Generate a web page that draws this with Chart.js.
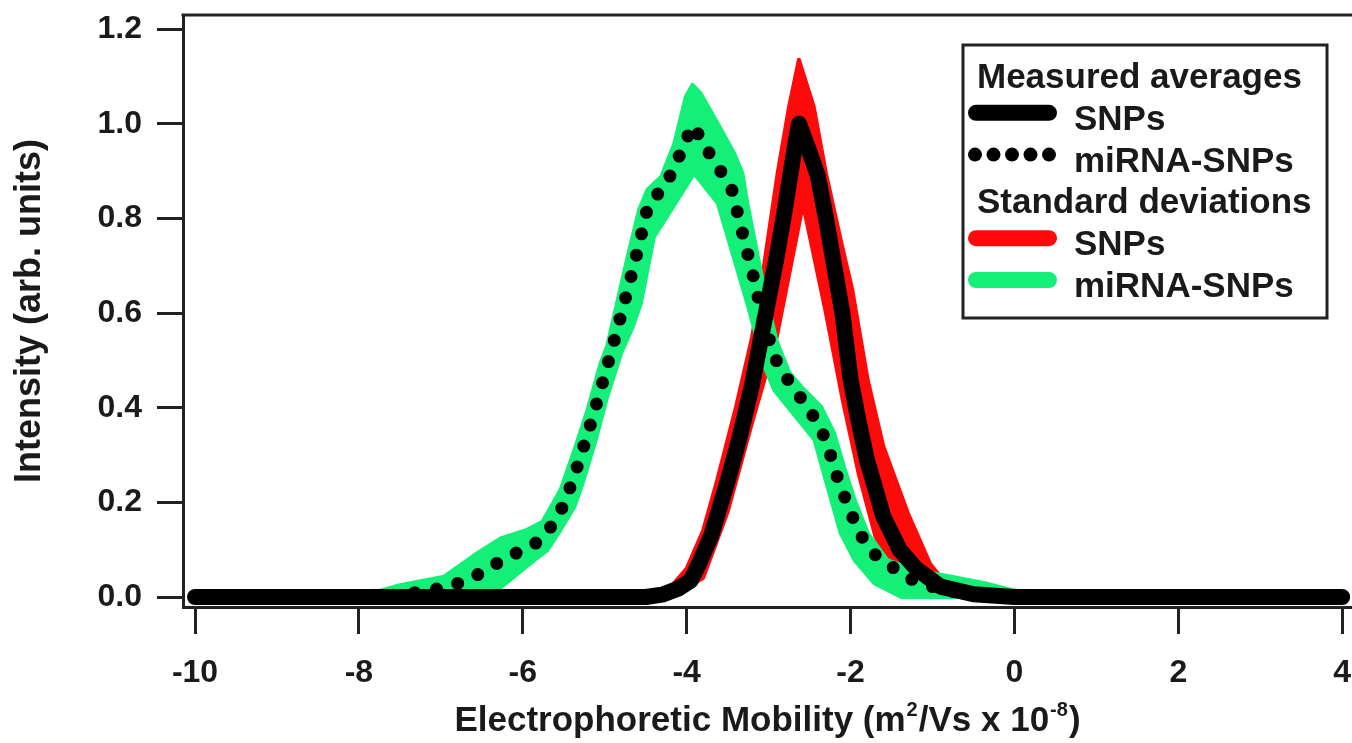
<!DOCTYPE html>
<html>
<head>
<meta charset="utf-8">
<title>Electrophoretic mobility distributions</title>
<script src="https://cdn.jsdelivr.net/npm/chart.js@4.4.1/dist/chart.umd.min.js"></script>
<style>
  html, body { margin: 0; padding: 0; background: #fff; }
  #wrap { width: 1352px; height: 743px; position: relative; }
</style>
</head>
<body>
<div id="wrap"><canvas id="mobility-chart"></canvas></div>
<script>
// Mobility (x) / intensity (y)

// SNPs measured average (solid black)
const snpsX = [-10, -4.5, -4.3, -4.1, -3.95, -3.85, -3.7, -3.5, -3.35, -3.2, -3.1, -3.0, -2.9, -2.8, -2.7, -2.63,
  -2.5, -2.4, -2.3, -2.2, -2.1, -2.0, -1.9, -1.8, -1.6, -1.4, -1.2, -0.9, -0.5, 0, 4];
const snpsY = [0, 0, 0.005, 0.018, 0.035, 0.07, 0.13, 0.245, 0.34, 0.45, 0.54, 0.63, 0.72, 0.82, 0.93, 1.0,
  0.94, 0.89, 0.80, 0.70, 0.60, 0.46, 0.37, 0.29, 0.17, 0.10, 0.06, 0.022, 0.006, 0, 0];

// miRNA-SNPs measured average (dotted black)
const mirnaX = [-10, -7.8, -7.5, -7.2, -6.9, -6.62, -6.35, -6.09, -5.82, -5.64, -5.49, -5.31, -5.15, -5.0, -4.86,
  -4.72, -4.59, -4.47, -4.26, -4.13, -4.02, -3.92, -3.77, -3.6, -3.45, -3.32, -3.19, -3.07, -2.99, -2.91,
  -2.75, -2.56, -2.38, -2.28, -2.2, -2.12, -2.01, -1.92, -1.72, -1.47, -1.24, -1.0, -0.7, -0.3, 0, 4];
const mirnaY = [0, 0, 0.005, 0.012, 0.022, 0.04, 0.068, 0.092, 0.116, 0.152, 0.198, 0.288, 0.378, 0.469, 0.557,
  0.649, 0.738, 0.828, 0.870, 0.915, 0.962, 0.997, 0.950, 0.904, 0.861, 0.770, 0.680, 0.59, 0.543, 0.501,
  0.455, 0.409, 0.363, 0.320, 0.275, 0.230, 0.187, 0.142, 0.092, 0.061, 0.036, 0.022, 0.01, 0.003, 0, 0];

// SNPs standard deviation band (red), upper and lower edges
const snpsSdUpX = [-4.6, -4.2, -4.0, -3.8, -3.63, -3.4, -3.2, -3.07, -2.89, -2.75, -2.63, -2.45, -2.3, -2.12,
  -1.98, -1.79, -1.6, -1.3, -1.03, -0.82, -0.5, 0];
const snpsSdUpY = [0, 0.02, 0.06, 0.14, 0.245, 0.40, 0.55, 0.684, 0.895, 1.036, 1.135, 1.036, 0.895, 0.754,
  0.65, 0.458, 0.318, 0.177, 0.07, 0.025, 0.005, 0];
const snpsSdLoX = [-4.6, -4.2, -3.8, -3.5, -3.2, -2.9, -2.58, -2.3, -2.1, -1.9, -1.7, -1.5, -1.3, -1.1, 0];
const snpsSdLoY = [0, 0, 0.04, 0.18, 0.37, 0.55, 0.83, 0.60, 0.42, 0.26, 0.13, 0.05, 0.01, 0, 0];

// miRNA-SNPs standard deviation band (green), upper and lower edges
const mirnaSdUpX = [-8.0, -7.5, -6.96, -6.56, -6.27, -5.95, -5.76, -5.54, -5.37, -5.21, -5.05, -4.97, -4.72,
  -4.58, -4.48, -4.31, -4.15, -4.01, -3.93, -3.83, -3.62, -3.42, -3.32, -3.26, -3.14, -3.03, -2.9, -2.75,
  -2.60, -2.36, -2.20, -2.08, -1.95, -1.79, -1.55, -1.22, -0.77, -0.36, -0.04, 0.4, 0.8];
const mirnaSdUpY = [0, 0.025, 0.043, 0.092, 0.124, 0.142, 0.159, 0.226, 0.31, 0.395, 0.494, 0.53, 0.719,
  0.818, 0.86, 0.888, 0.958, 1.057, 1.082, 1.064, 1.0, 0.937, 0.895, 0.832, 0.726, 0.634, 0.54, 0.475,
  0.444, 0.402, 0.346, 0.275, 0.205, 0.135, 0.078, 0.057, 0.043, 0.029, 0.015, 0.004, 0];
const mirnaSdLoX = [-8.0, -6.6, -6.27, -5.86, -5.70, -5.54, -5.37, -5.27, -5.11, -4.97, -4.80, -4.66, -4.56,
  -4.40, -4.19, -3.91, -3.62, -3.50, -3.38, -3.26, -3.05, -2.93, -2.44, -2.28, -2.12, -1.95, -1.71, -1.38, 0.8];
const mirnaSdLoY = [0, 0, 0.02, 0.078, 0.099, 0.142, 0.191, 0.24, 0.332, 0.423, 0.515, 0.57, 0.62,
  0.761, 0.818, 0.895, 0.832, 0.761, 0.691, 0.62, 0.487, 0.437, 0.332, 0.233, 0.135, 0.078, 0.029, 0, 0];

// Axis ticks
const xTicks = [-10, -8, -6, -4, -2, 0, 2, 4];
const yTicks = [0, 0.2, 0.4, 0.6, 0.8, 1.0, 1.2];

const RED = '#ff0a0a';
const GREEN = '#14ef78';
const INK = '#1a1a1a';
const FONT = "'Liberation Sans', Arial, Helvetica, sans-serif";

Chart.defaults.font.family = FONT;
Chart.defaults.color = INK;

function toPoints(xs, ys) {
  return xs.map((x, i) => ({ x: x, y: ys[i] }));
}

// Legend rows: headers have no key, items point at a dataset label
const legendRows = [
  { text: 'Measured averages' },
  { text: 'SNPs', key: 'snps-mean' },
  { text: 'miRNA-SNPs', key: 'mirna-mean' },
  { text: 'Standard deviations' },
  { text: 'SNPs', key: 'snps-sd' },
  { text: 'miRNA-SNPs', key: 'mirna-sd' }
];

const boxLegend = {
  id: 'boxLegend',
  afterDraw(chart) {
    const ctx = chart.ctx;
    const box = { left: 963, top: 45, right: 1327, bottom: 318 };
    ctx.save();
    ctx.fillStyle = '#fff';
    ctx.fillRect(box.left, box.top, box.right - box.left, box.bottom - box.top);
    ctx.strokeStyle = '#222';
    ctx.lineWidth = 3;
    ctx.strokeRect(box.left, box.top, box.right - box.left, box.bottom - box.top);

    ctx.font = 'bold 35px ' + FONT;
    ctx.fillStyle = INK;
    ctx.textBaseline = 'alphabetic';
    legendRows.forEach((row, i) => {
      const base = 88 + i * 41.8;
      if (!row.key) {
        ctx.fillText(row.text, 977, base);
        return;
      }
      const ds = chart.data.datasets.find(d => d.label === row.key);
      const y = base - 17;
      ctx.save();
      ctx.strokeStyle = ds.borderColor;
      ctx.lineCap = 'round';
      ctx.beginPath();
      if (ds.borderDash && ds.borderDash.length) {
        ctx.lineWidth = 14;
        ctx.setLineDash([0, 18.5]);
        ctx.moveTo(975, y);
        ctx.lineTo(1050, y);
      } else {
        ctx.lineWidth = 16;
        ctx.moveTo(976, y);
        ctx.lineTo(1049, y);
      }
      ctx.stroke();
      ctx.restore();
      ctx.fillText(row.text, 1074, base);
    });
    ctx.restore();
  }
};

// top frame line and the x title with superscripts
const frameAndTitle = {
  id: 'frameAndTitle',
  afterDraw(chart) {
    const ctx = chart.ctx;
    const area = chart.chartArea;
    ctx.save();
    ctx.strokeStyle = '#222';
    ctx.lineWidth = 3;
    ctx.beginPath();
    ctx.moveTo(area.left - 1.5, area.top);
    ctx.lineTo(chart.width, area.top);
    ctx.stroke();

    const parts = [
      { t: 'Electrophoretic Mobility (m', sup: false },
      { t: '2', sup: true },
      { t: '/Vs x 10', sup: false },
      { t: '-8', sup: true },
      { t: ')', sup: false }
    ];
    const mainFont = 'bold 35px ' + FONT;
    const supFont = 'bold 20px ' + FONT;
    let total = 0;
    parts.forEach(p => {
      ctx.font = p.sup ? supFont : mainFont;
      p.w = ctx.measureText(p.t).width + (p.sup ? 2 : 0);
      total += p.w;
    });
    let x = (area.left + area.right) / 2 - total / 2;
    const base = 731;
    ctx.fillStyle = INK;
    ctx.textBaseline = 'alphabetic';
    parts.forEach(p => {
      ctx.font = p.sup ? supFont : mainFont;
      ctx.fillText(p.t, x + (p.sup ? 1 : 0), p.sup ? base - 15 : base);
      x += p.w;
    });
    ctx.restore();
  }
};

function band(label, xs, ys, color, fill, order) {
  return {
    label: label,
    data: toPoints(xs, ys),
    borderColor: color,
    backgroundColor: color,
    borderWidth: 4,
    borderJoinStyle: 'round',
    borderCapStyle: 'round',
    pointRadius: 0,
    fill: fill,
    order: order
  };
}

const datasets = [
  band('snps-sd-low', snpsSdLoX, snpsSdLoY, RED, false, 4),
  band('snps-sd', snpsSdUpX, snpsSdUpY, RED, '-1', 4),
  band('mirna-sd-low', mirnaSdLoX, mirnaSdLoY, GREEN, false, 3),
  band('mirna-sd', mirnaSdUpX, mirnaSdUpY, GREEN, '-1', 3),
  {
    label: 'snps-mean',
    data: toPoints(snpsX, snpsY),
    borderColor: '#000',
    borderWidth: 16,
    borderCapStyle: 'round',
    borderJoinStyle: 'round',
    pointRadius: 0,
    fill: false,
    order: 2
  },
  {
    label: 'mirna-mean',
    data: toPoints(mirnaX, mirnaY),
    borderColor: '#000',
    borderWidth: 13,
    borderDash: [0, 22],
    borderCapStyle: 'round',
    pointRadius: 0,
    fill: false,
    order: 1
  }
];

const ctx = document.getElementById('mobility-chart').getContext('2d');

new Chart(ctx, {
  type: 'line',
  data: { datasets: datasets },
  options: {
    responsive: true,
    maintainAspectRatio: false,
    animation: false,
    layout: { padding: { top: 15, right: 0, bottom: 0, left: 0 } },
    plugins: {
      legend: { display: false },
      tooltip: { enabled: false }
    },
    scales: {
      x: {
        type: 'linear',
        min: -10.147,
        max: 4.12,
        afterBuildTicks: (scale) => {
          scale.ticks = xTicks.map(v => ({ value: v }));
        },
        afterFit: (scale) => {
          scale.height = 136;
          scale.paddingLeft = 0;
          scale.paddingRight = 0;
        },
        border: { display: true, color: '#222', width: 3 },
        grid: {
          drawOnChartArea: false,
          drawTicks: true,
          tickLength: 27,
          tickWidth: 3,
          tickColor: '#222'
        },
        ticks: {
          padding: 20,
          color: INK,
          font: { size: 32, weight: 'bold' },
          callback: (v) => String(v)
        }
      },
      y: {
        type: 'linear',
        min: -0.0211,
        max: 1.2296,
        afterBuildTicks: (scale) => {
          scale.ticks = yTicks.map(v => ({ value: v }));
        },
        afterFit: (scale) => {
          scale.width = 183;
          scale.paddingTop = 0;
          scale.paddingBottom = 0;
        },
        border: { display: true, color: '#222', width: 3 },
        grid: {
          drawOnChartArea: false,
          drawTicks: true,
          tickLength: 26,
          tickWidth: 3,
          tickColor: '#222'
        },
        ticks: {
          padding: 15,
          color: INK,
          font: { size: 32, weight: 'bold' },
          callback: (v) => v.toFixed(1)
        },
        title: {
          display: true,
          text: 'Intensity (arb. units)',
          color: INK,
          font: { size: 36, weight: 'bold' },
          padding: { top: 8, bottom: 0 }
        }
      }
    }
  },
  plugins: [frameAndTitle, boxLegend]
});
</script>
</body>
</html>
